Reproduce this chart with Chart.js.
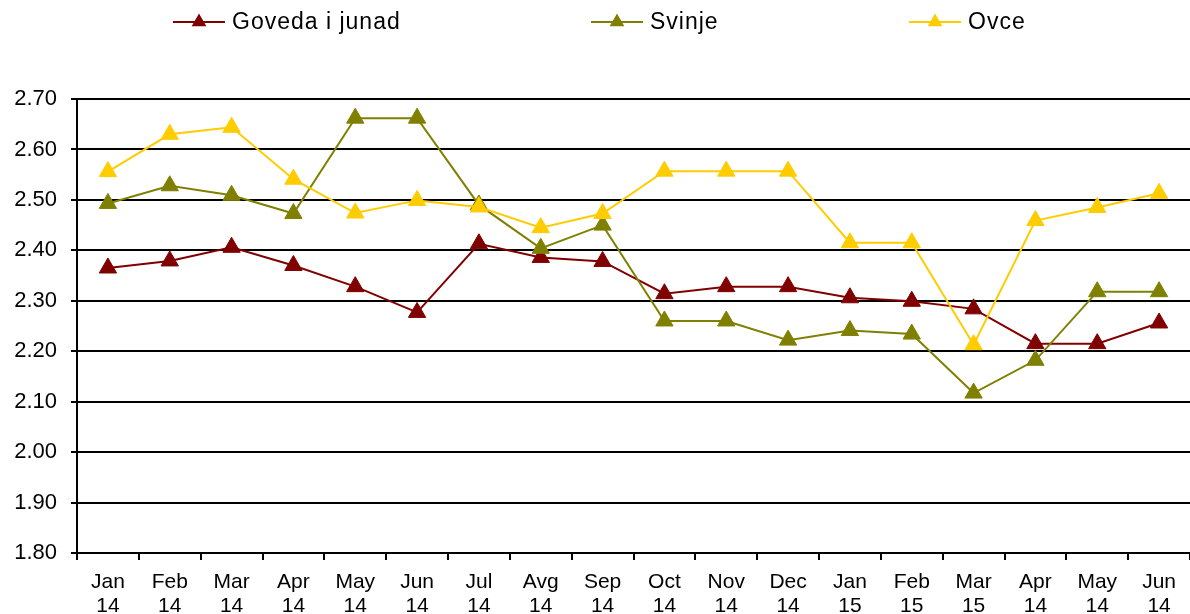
<!DOCTYPE html>
<html>
<head>
<meta charset="utf-8">
<script src="https://cdn.jsdelivr.net/npm/chart.js@4.4.0/dist/chart.umd.min.js"></script>
<style>
  html, body { margin: 0; padding: 0; background: #fff; overflow: hidden; }
  .wrap { width: 1190px; height: 614px; position: relative; }
</style>
</head>
<body>
<div class="wrap"><canvas id="prices"></canvas></div>
<script>
// categories (month / year)
const months = [
  ['Jan','14'], ['Feb','14'], ['Mar','14'], ['Apr','14'], ['May','14'], ['Jun','14'],
  ['Jul','14'], ['Avg','14'], ['Sep','14'], ['Oct','14'], ['Nov','14'], ['Dec','14'],
  ['Jan','15'], ['Feb','15'], ['Mar','15'], ['Apr','14'], ['May','14'], ['Jun','14']
];

const goveda = [2.365, 2.379, 2.406, 2.370, 2.328, 2.277, 2.413, 2.386, 2.378, 2.314, 2.328, 2.328, 2.306, 2.299, 2.284, 2.215, 2.215, 2.256];
const svinje = [2.493, 2.528, 2.509, 2.473, 2.662, 2.662, 2.490, 2.404, 2.450, 2.260, 2.260, 2.222, 2.241, 2.234, 2.117, 2.182, 2.318, 2.318];
const ovce   = [2.556, 2.630, 2.644, 2.541, 2.474, 2.499, 2.486, 2.445, 2.473, 2.557, 2.557, 2.557, 2.415, 2.415, 2.213, 2.459, 2.485, 2.513];

const seriesNames = ['Goveda i junad', 'Svinje', 'Ovce'];
const seriesColors = ['#800000', '#808000', '#ffcc00'];
const yTicks = { min: 1.8, max: 2.7, step: 0.1 };

// legend spread across the top, line + triangle + label
const topLegend = {
  id: 'topLegend',
  afterDraw(chart) {
    const ctx = chart.ctx;
    const starts = [173, 591, 909];
    const y = 22;
    ctx.save();
    chart.data.datasets.forEach((ds, i) => {
      const x0 = starts[i];
      ctx.strokeStyle = ds.borderColor;
      ctx.lineWidth = 2;
      ctx.beginPath();
      ctx.moveTo(x0, y);
      ctx.lineTo(x0 + 52, y);
      ctx.stroke();
      const cx = x0 + 26, r = 8.5;
      ctx.fillStyle = ds.backgroundColor;
      ctx.beginPath();
      ctx.moveTo(cx, y - r);
      ctx.lineTo(cx + r * 0.866, y + r / 2);
      ctx.lineTo(cx - r * 0.866, y + r / 2);
      ctx.closePath();
      ctx.fill();
      ctx.fillStyle = '#000';
      ctx.font = '23px "Liberation Sans", Arial, sans-serif';
      ctx.letterSpacing = '1px';
      ctx.textBaseline = 'middle';
      ctx.textAlign = 'left';
      ctx.fillText(ds.label, x0 + 59, y + 1);
    });
    ctx.restore();
  }
};

const datasets = [goveda, svinje, ovce].map((vals, i) => ({
  label: seriesNames[i],
  data: vals,
  borderColor: seriesColors[i],
  backgroundColor: seriesColors[i],
  borderWidth: 2,
  pointStyle: 'triangle',
  pointRadius: 10,
  pointBorderWidth: 1,
  pointBackgroundColor: seriesColors[i],
  pointBorderColor: seriesColors[i],
  tension: 0,
  order: 3 - i
}));

new Chart(document.getElementById('prices'), {
  type: 'line',
  data: { labels: months, datasets: datasets },
  plugins: [topLegend],
  options: {
    responsive: true,
    maintainAspectRatio: false,
    animation: false,
    layout: { autoPadding: false, padding: { top: 99, right: -4, left: 0, bottom: 0 } },
    plugins: {
      legend: { display: false },
      tooltip: { enabled: false }
    },
    scales: {
      x: {
        offset: true,
        grid: { offset: true, drawOnChartArea: false, drawTicks: true, tickLength: 7, color: '#000', lineWidth: 2 },
        border: { display: true, color: '#000', width: 2 },
        ticks: {
          color: '#000',
          padding: 10,
          maxRotation: 0,
          autoSkip: false,
          font: { family: '"Liberation Sans", Arial, sans-serif', size: 21, lineHeight: 1.15 }
        },
        afterFit(scale) {
          scale.height = 61;
          scale.paddingLeft = 0;
          scale.paddingRight = 0;
        }
      },
      y: {
        min: yTicks.min,
        max: yTicks.max,
        grid: { color: '#000', lineWidth: 2, drawTicks: true, tickLength: 6 },
        border: { display: true, color: '#000', width: 2 },
        ticks: {
          stepSize: yTicks.step,
          color: '#000',
          padding: 14,
          font: { family: '"Liberation Sans", Arial, sans-serif', size: 22 },
          callback: v => v.toFixed(2)
        },
        afterFit(scale) { scale.width = 77; }
      }
    }
  }
});
</script>
</body>
</html>
